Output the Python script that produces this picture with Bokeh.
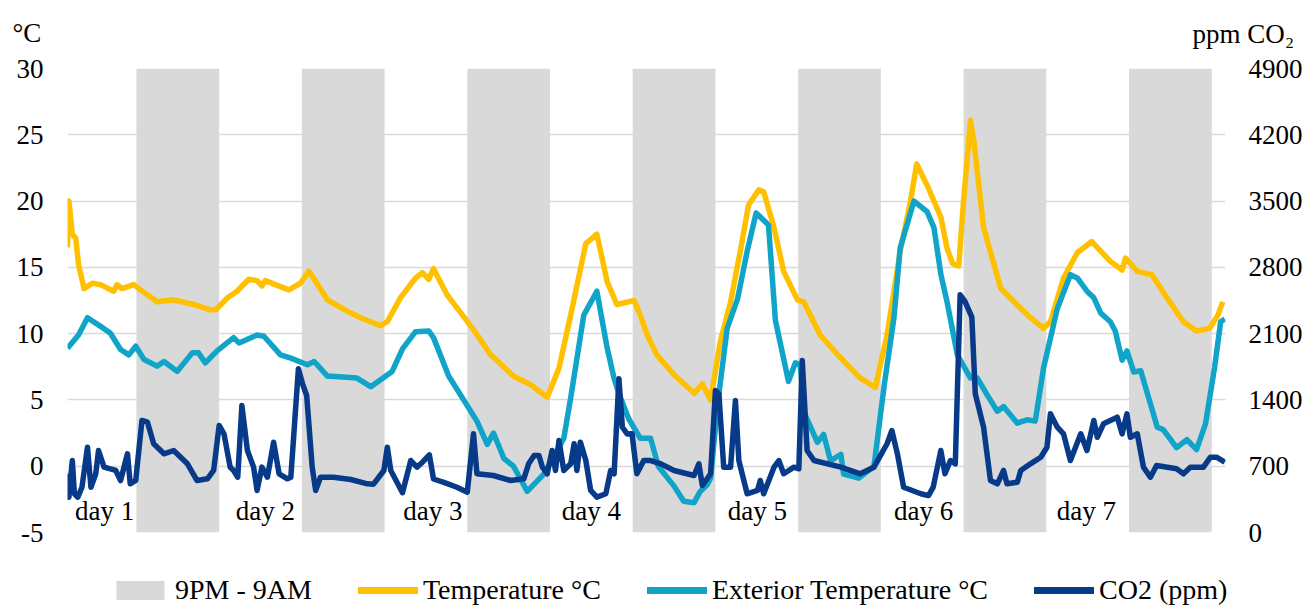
from bokeh.plotting import figure
from bokeh.layouts import column
from bokeh.models import (Range1d, LinearAxis, FixedTicker, Legend, LegendItem,
                          ColumnDataSource)
from bokeh.core.properties import value
from bokeh.embed import file_html
from bokeh.resources import INLINE

# ---------------- data ----------------
# time axis in hours counted from midnight of day 1 (chart spans 11:00 day 1 -> 11:00 day 8)
temp_hours = [11.0, 11.2, 11.7, 12.2, 12.6, 13.4, 14.6, 15.8, 17.7, 18.2,
              18.9, 20.6, 21.6, 24.0, 26.4, 29.3, 31.7, 32.5, 34.2, 35.6,
              37.3, 38.5, 39.2, 39.7, 43.1, 44.8, 46.0, 46.7, 48.7, 52.1,
              53.5, 56.4, 57.4, 59.3, 61.5, 62.5, 63.4, 64.1, 66.1, 69.9,
              72.4, 75.7, 78.2, 80.6, 82.3, 84.0, 86.2, 86.9, 87.8, 89.3,
              90.7, 93.2, 94.1, 95.1, 96.5, 99.0, 101.9, 103.1, 104.3, 105.7,
              107.2, 108.6, 109.8, 111.3, 112.0, 113.5, 114.9, 116.9, 117.8, 120.2,
              123.1, 126.0, 128.2, 129.9, 131.8, 133.3, 134.2, 135.7, 137.7, 138.6,
              139.4, 140.3, 141.0, 142.0, 142.5, 143.9, 146.4, 149.0, 150.7, 152.6,
              153.6, 155.5, 157.5, 159.6, 162.3, 164.0, 164.5, 166.2, 168.3, 170.5,
              172.9, 174.8, 176.7, 177.9, 178.6]
temp_values = [16.5, 20.0, 17.5, 17.2, 15.2, 13.4, 13.8, 13.7, 13.2, 13.7,
               13.4, 13.7, 13.3, 12.4, 12.55, 12.2, 11.8, 11.8, 12.7, 13.2,
               14.1, 14.0, 13.6, 14.0, 13.3, 13.8, 14.7, 14.2, 12.55, 11.55,
               11.2, 10.6, 10.9, 12.7, 14.2, 14.6, 14.1, 14.9, 12.9, 10.3,
               8.4, 6.8, 6.15, 5.2, 7.4, 11.4, 16.8, 17.1, 17.5, 13.9,
               12.2, 12.5, 11.4, 9.9, 8.4, 6.9, 5.5, 6.2, 5.0, 9.4,
               12.4, 16.2, 19.7, 20.85, 20.7, 18.0, 14.7, 12.55, 12.4, 9.9,
               8.2, 6.65, 5.95, 9.9, 16.2, 20.0, 22.8, 21.2, 18.8, 16.45,
               15.3, 15.1, 20.0, 26.1, 24.5, 18.0, 13.4, 12.05, 11.2, 10.4,
               10.9, 14.2, 16.1, 16.95, 15.45, 14.8, 15.7, 14.7, 14.45, 12.7,
               10.9, 10.2, 10.4, 11.4, 12.4]

ext_hours = [11.0, 12.6, 13.9, 15.8, 17.2, 18.7, 19.9, 20.9, 22.1, 24.0,
             25.0, 26.9, 29.1, 30.0, 31.0, 32.7, 35.1, 35.9, 38.5, 39.5,
             41.9, 43.4, 45.8, 46.8, 48.7, 53.0, 55.0, 58.1, 59.6, 61.5,
             63.4, 64.1, 66.3, 70.4, 71.9, 72.8, 74.3, 75.7, 77.7, 80.1,
             83.0, 84.0, 85.9, 87.8, 89.3, 90.3, 91.2, 92.4, 94.1, 95.6,
             96.7, 99.0, 100.4, 101.9, 102.8, 103.8, 104.3, 105.3, 106.7, 108.2,
             109.6, 110.9, 112.7, 113.7, 115.6, 116.6, 117.3, 117.9, 119.8, 120.7,
             121.7, 123.2, 123.6, 125.8, 128.0, 129.5, 130.9, 131.8, 133.8, 135.7,
             136.7, 137.7, 138.6, 140.1, 142.0, 143.0, 144.4, 145.9, 146.8, 148.8,
             150.2, 151.4, 152.6, 154.6, 156.5, 157.5, 158.9, 159.9, 160.9, 162.3,
             163.0, 164.0, 164.7, 165.7, 166.7, 169.1, 170.0, 171.9, 173.4, 174.8,
             176.1, 177.4, 178.3, 178.9]
ext_values = [8.9, 9.9, 11.2, 10.55, 10.05, 8.8, 8.4, 9.05, 8.05, 7.55,
              7.9, 7.15, 8.55, 8.55, 7.8, 8.7, 9.7, 9.3, 9.9, 9.8,
              8.4, 8.15, 7.65, 7.9, 6.8, 6.65, 6.0, 7.15, 8.85, 10.15,
              10.2, 9.7, 6.8, 3.4, 1.65, 2.5, 0.6, 0.0, -1.9, -0.6,
              2.1, 5.15, 11.4, 13.2, 8.9, 6.6, 5.2, 3.6, 2.1, 2.1,
              0.0, -1.5, -2.65, -2.75, -1.9, -1.4, -0.9, 4.6, 10.4, 12.6,
              16.2, 19.1, 18.2, 11.0, 6.4, 7.8, 7.65, 4.0, 1.8, 2.4,
              0.4, 0.9, -0.6, -0.9, 0.0, 6.15, 11.2, 16.45, 20.0, 19.2,
              18.0, 14.5, 12.4, 8.4, 6.65, 6.65, 5.4, 4.15, 4.5, 3.25,
              3.5, 3.4, 7.4, 11.9, 14.45, 14.2, 13.2, 12.7, 11.55, 10.9,
              10.2, 8.0, 8.7, 7.1, 7.2, 2.95, 2.75, 1.4, 2.0, 1.25,
              3.2, 7.4, 10.9, 11.1]

co2_hours = [11.0, 11.2, 11.7, 12.0, 12.5, 13.1, 13.9, 14.4, 15.1, 15.5,
             16.3, 18.0, 18.7, 19.7, 20.1, 20.9, 21.8, 22.6, 23.5, 25.0,
             26.4, 28.4, 29.8, 31.3, 32.2, 33.0, 33.7, 34.6, 35.1, 35.7,
             36.3, 37.1, 38.0, 38.5, 39.2, 40.0, 40.9, 41.7, 42.9, 43.4,
             44.5, 45.1, 45.7, 46.5, 47.0, 47.7, 49.6, 52.1, 54.5, 55.4,
             56.9, 57.4, 57.9, 59.6, 60.8, 61.7, 62.5, 63.5, 64.1, 65.6,
             67.5, 69.0, 69.9, 70.4, 72.8, 75.3, 77.2, 77.9, 78.7, 79.4,
             79.9, 80.6, 81.3, 81.8, 82.3, 83.0, 84.0, 84.5, 84.9, 85.4,
             86.2, 86.9, 87.8, 89.1, 89.8, 90.3, 91.0, 91.5, 92.2, 92.9,
             93.6, 94.6, 95.6, 97.1, 99.0, 101.9, 102.6, 103.1, 104.3, 105.0,
             105.5, 106.2, 107.2, 107.9, 108.4, 109.6, 111.1, 111.5, 112.0, 113.5,
             114.2, 114.9, 116.4, 117.1, 117.6, 118.3, 119.3, 123.2, 126.0, 128.0,
             129.9, 130.6, 131.4, 132.3, 134.8, 135.9, 136.6, 137.7, 138.3, 139.1,
             139.8, 140.5, 141.2, 142.2, 142.7, 143.9, 144.9, 145.9, 146.8, 147.3,
             148.8, 149.3, 150.7, 152.2, 153.1, 153.6, 154.6, 155.5, 156.5, 158.0,
             158.9, 159.9, 160.4, 161.3, 163.3, 164.0, 164.7, 165.2, 166.2, 167.1,
             168.1, 169.0, 171.9, 172.9, 173.9, 175.8, 176.8, 177.7, 178.9]
co2_ppm = [620, 373, 760, 409, 373, 478, 901, 478, 620, 866,
           690, 655, 549, 831, 514, 549, 1183, 1165, 937, 831,
           866, 725, 549, 567, 655, 1130, 1042, 690, 655, 584,
           1341, 866, 690, 444, 690, 584, 954, 620, 567, 584,
           1729, 1570, 1447, 690, 444, 584, 584, 560, 514, 510,
           655, 901, 655, 420, 760, 690, 742, 820, 565, 530,
           478, 426, 1042, 620, 602, 549, 567, 725, 813, 813,
           690, 620, 866, 655, 972, 655, 725, 937, 655, 954,
           760, 444, 373, 409, 655, 620, 1623, 1112, 1040, 1042,
           620, 760, 760, 725, 655, 602, 725, 496, 620, 1500,
           1465, 690, 690, 1394, 760, 409, 444, 549, 409, 690,
           760, 620, 690, 673, 1816, 866, 760, 690, 620, 690,
           937, 1077, 831, 478, 409, 390, 480, 866, 620, 760,
           725, 2510, 2440, 2274, 1465, 1112, 549, 514, 655, 514,
           531, 655, 725, 795, 901, 1253, 1112, 1042, 760, 1042,
           866, 1183, 1006, 1148, 1218, 1042, 1253, 1006, 1042, 690,
           584, 708, 673, 620, 690, 690, 795, 795, 742]

night_start = [21, 45, 69, 93, 117, 141, 165]   # 9 PM
night_end = [33, 57, 81, 105, 129, 153, 177]     # 9 AM next day
day_labels = ["day 1", "day 2", "day 3", "day 4", "day 5", "day 6", "day 7"]
day_label_hours = [16.4, 39.7, 64.0, 87.0, 111.1, 135.2, 158.8]
temp_ticks = [-5, 0, 5, 10, 15, 20, 25, 30]
co2_ticks = [0, 700, 1400, 2100, 2800, 3500, 4200, 4900]
series_names = ["9PM - 9AM", "Temperature °C", "Exterior Temperature °C", "CO2 (ppm)"]
axis_titles = ["°C", "ppm CO₂"]

assert len(temp_hours) == len(temp_values)
assert len(ext_hours) == len(ext_values)
assert len(co2_hours) == len(co2_ppm)

# ---------------- styling ----------------
FONT = "Liberation Serif"
FS = "27px"
C_BAND = "#d9d9d9"
C_TEMP = "#ffc000"
C_EXT = "#10a4c9"
C_CO2 = "#073b8a"
LW = 5.5
W = 1312
HEAD_H = 52


def no_align(fig):
    if hasattr(fig, "frame_align"):
        fig.frame_align = False
    return fig


def bare(fig):
    fig.xaxis.visible = False
    fig.yaxis.visible = False
    fig.grid.visible = False
    fig.outline_line_color = None
    fig.title.visible = False
    return no_align(fig)


# ---- header strip: axis titles ----
head = bare(figure(width=W, height=HEAD_H, x_range=Range1d(0, W),
                   y_range=Range1d(HEAD_H, 0),
                   output_backend="svg", toolbar_location=None,
                   min_border_left=0, min_border_right=0,
                   min_border_top=0, min_border_bottom=0))
head.text(x=[12, 1192], y=[32, 33], text=axis_titles, text_align="left",
          text_baseline="alphabetic", text_font=value(FONT), text_font_size=FS,
          text_color="black")

# ---- main chart ----
p = no_align(figure(width=W, height=552 - HEAD_H,
                    x_range=Range1d(11, 179), y_range=Range1d(-5, 30),
                    output_backend="svg", toolbar_location=None,
                    min_border_left=67, min_border_right=87,
                    min_border_top=68 - HEAD_H, min_border_bottom=20))
p.title.visible = False
p.extra_y_ranges = {"co2": Range1d(0, 4900)}
p.outline_line_color = None
p.background_fill_color = "white"
p.xaxis.visible = False
p.xgrid.visible = False
p.ygrid.ticker = FixedTicker(ticks=temp_ticks)
p.ygrid.grid_line_color = C_BAND
p.ygrid.grid_line_width = 1.6


def style_axis(a, standoff):
    a.axis_line_color = None
    a.major_tick_line_color = None
    a.minor_tick_line_color = None
    a.major_tick_out = 0
    a.major_tick_in = 0
    a.minor_tick_out = 0
    a.major_label_text_font = FONT
    a.major_label_text_font_size = FS
    a.major_label_text_color = "black"
    a.major_label_standoff = standoff


ax = p.yaxis[0]
ax.ticker = FixedTicker(ticks=temp_ticks)
ax.major_label_overrides = {t: str(t) for t in temp_ticks}
style_axis(ax, 24)

rax = LinearAxis(y_range_name="co2", ticker=FixedTicker(ticks=co2_ticks))
rax.major_label_overrides = {t: str(t) for t in co2_ticks}
style_axis(rax, 23)
p.add_layout(rax, "right")

p.quad(left=night_start, right=night_end, bottom=-5, top=30,
       fill_color=C_BAND, line_color=None)
p.line(temp_hours, temp_values, line_color=C_TEMP, line_width=LW, line_join="round")
p.line(ext_hours, ext_values, line_color=C_EXT, line_width=LW, line_join="round")
p.line(co2_hours, co2_ppm, line_color=C_CO2, line_width=LW, line_join="round",
       y_range_name="co2")

lab_src = ColumnDataSource(dict(x=day_label_hours, y=[-3.35] * len(day_labels),
                                text=day_labels))
p.text(x="x", y="y", text="text", source=lab_src, text_align="center",
       text_baseline="middle", text_font=value(FONT), text_font_size=FS,
       text_color="black")

# ---- footer strip: legend (same series, ranges chosen so only the legend shows) ----
foot = bare(figure(width=W, height=56, x_range=Range1d(-2, -1), y_range=Range1d(-2, -1),
                   output_backend="svg", toolbar_location=None,
                   min_border_left=0, min_border_right=0,
                   min_border_top=0, min_border_bottom=0))
g_band = foot.quad(left=night_start, right=night_end, bottom=-5, top=30,
                   fill_color=C_BAND, line_color=None)
g_temp = foot.line(temp_hours, temp_values, line_color=C_TEMP, line_width=7,
                   line_cap="round")
g_ext = foot.line(ext_hours, ext_values, line_color=C_EXT, line_width=7,
                  line_cap="round")
g_co2 = foot.line(co2_hours, co2_ppm, line_color=C_CO2, line_width=7,
                  line_cap="round")
legend = Legend(items=[LegendItem(label=n, renderers=[r]) for n, r in
                       zip(series_names, [g_band, g_temp, g_ext, g_co2])],
                orientation="horizontal", location=(110, 2))
legend.label_text_font = FONT
legend.label_text_font_size = "28px"
legend.label_text_color = "black"
legend.padding = 0
legend.margin = 0
legend.border_line_color = None
legend.background_fill_alpha = 0
legend.glyph_width = 60
legend.glyph_height = 24
legend.label_standoff = 5
legend.spacing = 46
foot.add_layout(legend)

layout = column(head, p, foot, spacing=0)
open("out.html", "w").write(file_html(layout, INLINE))
